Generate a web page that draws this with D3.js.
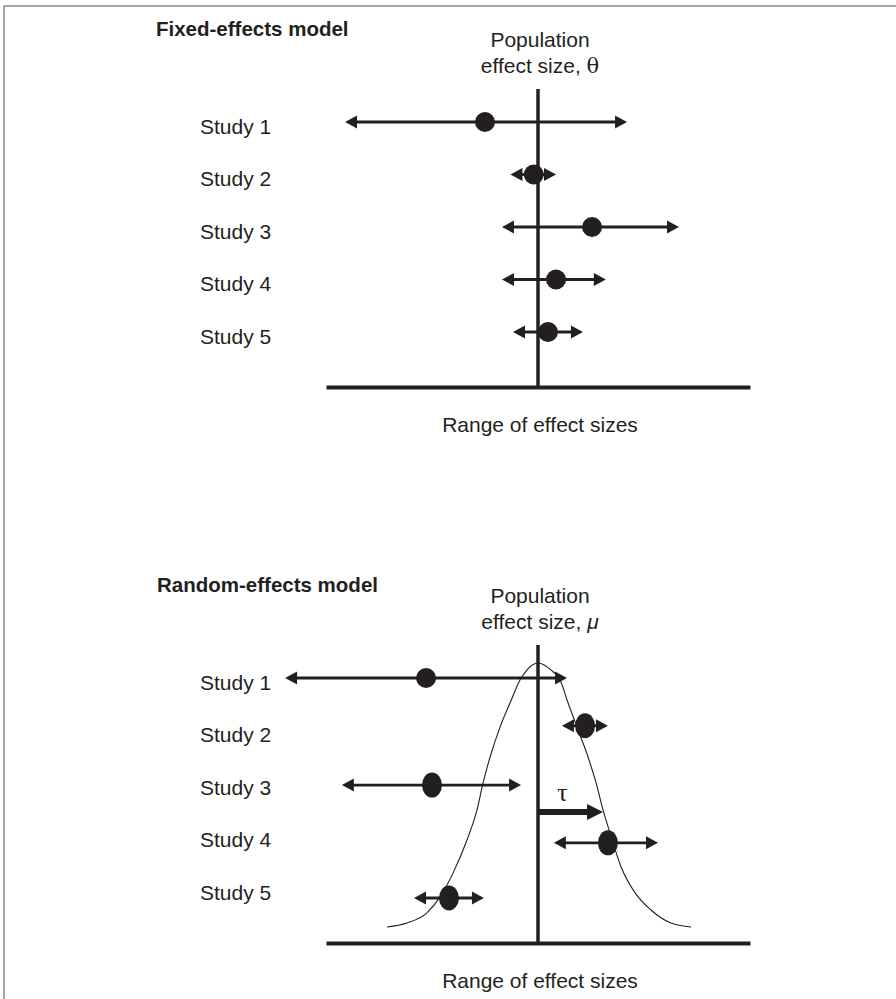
<!DOCTYPE html>
<html>
<head>
<meta charset="utf-8">
<script src="https://cdn.jsdelivr.net/npm/d3@7"></script>
<style>
  html, body { margin: 0; padding: 0; background: #fff; }
  svg { display: block; font-family: "Liberation Sans", Arial, sans-serif; }
</style>
</head>
<body>
<svg id="chart" width="896" height="999"></svg>
<script>
// ---- Data -------------------------------------------------------------
const studies = ["Study 1", "Study 2", "Study 3", "Study 4", "Study 5"];

// Fixed-effects model: observed effect and interval ends (effect-size units)
const fixedEst  = [-0.25, -0.02, 0.255, 0.085, 0.047];
const fixedLow  = [-0.91, -0.13, -0.17, -0.17, -0.118];
const fixedHigh = [0.42, 0.085, 0.665, 0.32, 0.212];
const fixedRow  = [0, 1, 2, 3, 4];

// Random-effects model
const randomEst  = [-0.528, 0.222, -0.5, 0.33, -0.42];
const randomLow  = [-1.193, 0.113, -0.925, 0.075, -0.585];
const randomHigh = [0.137, 0.33, -0.08, 0.566, -0.255];
const randomRow  = [0, 0.91, 2.04, 3.14, 4.19];

// Between-study spread of true effects
const tau = 0.307;
const curveX = [-0.712, -0.618, -0.524, -0.462, -0.401, -0.335, -0.288, -0.259, -0.226, -0.179, -0.132, -0.085, -0.052,
                0,
                0.061, 0.104, 0.142, 0.189, 0.236, 0.274, 0.307, 0.340, 0.392, 0.458, 0.533, 0.627, 0.722];
const curveD = [0.011, 0.026, 0.064, 0.124, 0.213, 0.337, 0.449, 0.551, 0.648, 0.760, 0.850, 0.936, 0.974,
                1.0,
                0.974, 0.936, 0.850, 0.749, 0.648, 0.551, 0.449, 0.363, 0.236, 0.139, 0.075, 0.026, 0.011];

// ---- Layout -----------------------------------------------------------
const ink = "#231f20";
const svg = d3.select("#chart");

const x = d3.scaleLinear().domain([-1, 1]).range([326, 750]);
const row = d3.scaleLinear().domain([0, 4]).range([122, 332]);
const dens = d3.scaleLinear().domain([0, 1]).range([374, 107]);
const axisY = 387;

// page frame
svg.append("path")
  .attr("d", "M4,999V6H896")
  .attr("fill", "none")
  .attr("stroke", "#8a8a8a")
  .attr("stroke-width", 1.5);

function arrowHead(g, tipX, y, dir, len, half) {
  g.append("path")
    .attr("d", `M${tipX},${y}L${tipX - dir * len},${y - half}L${tipX - dir * len},${y + half}Z`)
    .attr("fill", ink);
}

function drawPanel(offsetY, opts) {
  const g = svg.append("g").attr("transform", `translate(0,${offsetY})`);

  // panel title
  g.append("text")
    .attr("x", opts.titleX).attr("y", 36)
    .attr("font-size", 20.5).attr("font-weight", "bold")
    .attr("fill", ink)
    .text(opts.title);

  // population effect caption
  g.append("text")
    .attr("x", x(0) + 2).attr("y", 47)
    .attr("text-anchor", "middle").attr("font-size", 21).attr("fill", ink)
    .text("Population");
  const cap = g.append("text")
    .attr("x", x(0) + 2).attr("y", 73)
    .attr("text-anchor", "middle").attr("font-size", 21).attr("fill", ink);
  cap.append("tspan").text("effect size, ");
  cap.append("tspan")
    .attr("font-family", opts.symbolFont)
    .attr("font-style", opts.symbolStyle)
    .text(opts.symbol);

  // study labels
  g.selectAll("text.study")
    .data(studies)
    .join("text")
    .attr("class", "study")
    .attr("x", 200)
    .attr("y", (d, i) => row(i) + 11.5)
    .attr("font-size", 21).attr("fill", ink)
    .text(d => d);

  // distribution of true effects
  if (opts.curve) {
    const pts = curveX.map((v, i) => [v, curveD[i]]);
    g.append("path")
      .datum(pts)
      .attr("d", d3.line().x(d => x(d[0])).y(d => dens(d[1])).curve(d3.curveMonotoneX))
      .attr("fill", "none").attr("stroke", ink).attr("stroke-width", 1.1);
  }

  // x axis without ticks
  const axis = g.append("g")
    .attr("transform", `translate(0,${axisY})`)
    .call(d3.axisBottom(x).tickValues([]).tickSizeOuter(0));
  axis.select(".domain").attr("stroke", ink).attr("stroke-width", 4);

  // population effect line
  g.append("line")
    .attr("x1", x(0)).attr("x2", x(0))
    .attr("y1", 89).attr("y2", axisY)
    .attr("stroke", ink).attr("stroke-width", 3.5);

  // tau arrow
  if (opts.tau) {
    const ty = 256;
    g.append("line")
      .attr("x1", x(0)).attr("x2", x(tau) - 14)
      .attr("y1", ty).attr("y2", ty)
      .attr("stroke", ink).attr("stroke-width", 6);
    arrowHead(g, x(tau), ty, 1, 16, 8);
    g.append("text")
      .attr("x", x(tau / 2) - 8).attr("y", 245)
      .attr("text-anchor", "middle")
      .attr("font-family", "'Liberation Serif', 'DejaVu Serif', serif")
      .attr("font-size", 26).attr("fill", ink)
      .text("τ");
  }

  // study intervals
  const headLen = 12, headHalf = 6.5;
  opts.est.forEach((e, i) => {
    const y = row(opts.rows[i]);
    const x0 = x(opts.low[i]), x1 = x(opts.high[i]);
    g.append("line")
      .attr("x1", x0 + headLen - 1).attr("x2", x1 - headLen + 1)
      .attr("y1", y).attr("y2", y)
      .attr("stroke", ink).attr("stroke-width", 2.8);
    arrowHead(g, x0, y, -1, headLen, headHalf);
    arrowHead(g, x1, y, 1, headLen, headHalf);
    g.append("ellipse")
      .attr("cx", x(e)).attr("cy", y)
      .attr("rx", 10).attr("ry", opts.dotRy(i))
      .attr("fill", ink);
  });

  // axis caption
  g.append("text")
    .attr("x", x(0) + 2).attr("y", 432)
    .attr("text-anchor", "middle").attr("font-size", 21).attr("fill", ink)
    .text("Range of effect sizes");
}

drawPanel(0, {
  title: "Fixed-effects model", titleX: 156,
  symbol: "θ", symbolFont: "'DejaVu Serif', 'Liberation Serif', serif", symbolStyle: "normal",
  est: fixedEst, low: fixedLow, high: fixedHigh, rows: fixedRow,
  dotRy: () => 10, curve: false, tau: false
});

drawPanel(556, {
  title: "Random-effects model", titleX: 157,
  symbol: "μ", symbolFont: "'Liberation Sans', Arial, sans-serif", symbolStyle: "italic",
  est: randomEst, low: randomLow, high: randomHigh, rows: randomRow,
  dotRy: i => (i === 0 ? 10 : 12.5), curve: true, tau: true
});
</script>
</body>
</html>
